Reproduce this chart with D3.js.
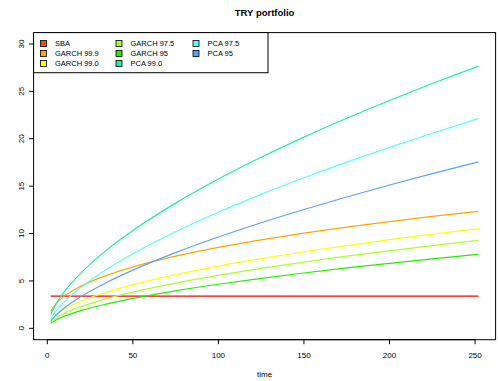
<!DOCTYPE html>
<meta charset="utf-8">
<style>
  body { margin: 0; background: #fff; }
  text { font-family: "Liberation Sans", Arial, Helvetica, sans-serif; fill: #000; }
  .line { fill: none; stroke-width: 1.2px; }
</style>
<body>
<div id="chart"></div>
<script src="https://d3js.org/d3.v7.min.js"></script>
<script>
  // values
  var time = [2, 5, 10, 20, 35, 50, 75, 100, 125, 150, 175, 200, 225, 252];
  var sba      = [3.4, 3.4, 3.4, 3.4, 3.4, 3.4, 3.4, 3.4, 3.4, 3.4, 3.4, 3.4, 3.4, 3.4];
  var garch999 = [1.79, 2.58, 3.40, 4.48, 5.61, 6.47, 7.61, 8.54, 9.33, 10.04, 10.68, 11.26, 11.81, 12.35];
  var garch990 = [0.89, 1.43, 2.03, 2.89, 3.84, 4.61, 5.67, 6.57, 7.36, 8.08, 8.73, 9.35, 9.93, 10.52];
  var garch975 = [0.65, 1.08, 1.58, 2.31, 3.14, 3.82, 4.77, 5.59, 6.32, 6.99, 7.61, 8.18, 8.73, 9.29];
  var garch95  = [0.52, 0.87, 1.28, 1.89, 2.58, 3.16, 3.96, 4.65, 5.27, 5.84, 6.37, 6.86, 7.33, 7.81];
  var pca990   = [1.45, 2.53, 3.87, 5.90, 8.30, 10.32, 13.21, 15.75, 18.04, 20.17, 22.16, 24.04, 25.83, 27.67];
  var pca975   = [1.00, 1.80, 2.81, 4.37, 6.26, 7.86, 10.19, 12.25, 14.13, 15.88, 17.53, 19.09, 20.58, 22.13];
  var pca95    = [0.76, 1.37, 2.16, 3.38, 4.87, 6.14, 7.99, 9.63, 11.14, 12.54, 13.86, 15.12, 16.32, 17.56];

  var seriesNames = ["SBA", "GARCH 99.9", "GARCH 99.0", "GARCH 97.5", "GARCH 95", "PCA 99.0", "PCA 97.5", "PCA 95"];
  var seriesValues = [sba, garch999, garch990, garch975, garch95, pca990, pca975, pca95];
  var xTicks = [0, 50, 100, 150, 200, 250];
  var yTicks = [0, 5, 10, 15, 20, 25, 30];

  var lineColors = ["#ff0000", "#ffa500", "#ffff00", "#a8ff2a", "#22ee00", "#1ef0a0", "#55ffff", "#5ca0ff"];
  var legendFill = ["#f24a12", "#ffa500", "#ffff00", "#a8ff2a", "#22ee00", "#1ef0a0", "#55ffff", "#5ca0ff"];

  var width = 498, height = 381;
  var box = { left: 33.6, right: 495.6, top: 32.6, bottom: 339.7 };

  var x = d3.scaleLinear().domain([-8, 262]).range([box.left, box.right]);
  var y = d3.scaleLinear().domain([-1.2, 31.2]).range([box.bottom, box.top]);

  var svg = d3.select("#chart").append("svg")
    .attr("width", width).attr("height", height);

  var line = d3.line()
    .curve(d3.curveMonotoneX)
    .x(function (d, i) { return x(time[i]); })
    .y(function (d) { return y(d); });

  svg.selectAll(".line")
    .data(seriesValues)
    .enter().append("path")
    .attr("class", "line")
    .attr("d", line)
    .attr("stroke", function (d, i) { return lineColors[i]; });

  // plot box
  svg.append("rect")
    .attr("x", box.left).attr("y", box.top)
    .attr("width", box.right - box.left).attr("height", box.bottom - box.top)
    .attr("fill", "none").attr("stroke", "#000").attr("stroke-width", 1);

  // x axis
  var xAxis = svg.append("g");
  xAxis.append("line")
    .attr("x1", x(xTicks[0])).attr("x2", x(xTicks[xTicks.length - 1]))
    .attr("y1", box.bottom).attr("y2", box.bottom).attr("stroke", "#000");
  xTicks.forEach(function (t) {
    xAxis.append("line")
      .attr("x1", x(t)).attr("x2", x(t))
      .attr("y1", box.bottom).attr("y2", box.bottom + 4.5)
      .attr("stroke", "#000");
    xAxis.append("text")
      .attr("x", x(t)).attr("y", 358)
      .attr("text-anchor", "middle").attr("font-size", "8px")
      .text(t);
  });

  // y axis
  var yAxis = svg.append("g");
  yTicks.forEach(function (t) {
    yAxis.append("line")
      .attr("x1", box.left - 4.5).attr("x2", box.left)
      .attr("y1", y(t)).attr("y2", y(t))
      .attr("stroke", "#000");
    yAxis.append("text")
      .attr("transform", "translate(23.5," + y(t) + ") rotate(-90)")
      .attr("text-anchor", "middle").attr("font-size", "8px")
      .text(t);
  });

  // titles
  svg.append("text")
    .attr("x", (box.left + box.right) / 2).attr("y", 16)
    .attr("text-anchor", "middle").attr("font-size", "9.5px").attr("font-weight", "bold")
    .text("TRY portfolio");
  svg.append("text")
    .attr("x", (box.left + box.right) / 2).attr("y", 377)
    .attr("text-anchor", "middle").attr("font-size", "8px")
    .text("time");

  // legend
  var legend = svg.append("g");
  legend.append("rect")
    .attr("x", box.left).attr("y", box.top)
    .attr("width", 268 - box.left).attr("height", 72.7 - box.top)
    .attr("fill", "#fff").attr("stroke", "#000");
  var colX = [43.5, 119, 196];
  seriesNames.forEach(function (name, i) {
    var col = Math.floor(i / 3), row = i % 3;
    var cy = 43.5 + row * 10;
    legend.append("rect")
      .attr("x", colX[col] - 3).attr("y", cy - 3)
      .attr("width", 6).attr("height", 6)
      .attr("fill", legendFill[i]).attr("stroke", "#000").attr("stroke-width", 0.8);
    legend.append("text")
      .attr("x", colX[col] + 11.5).attr("y", cy + 2.8)
      .attr("font-size", "7.5px")
      .text(name);
  });
</script>
</body>
